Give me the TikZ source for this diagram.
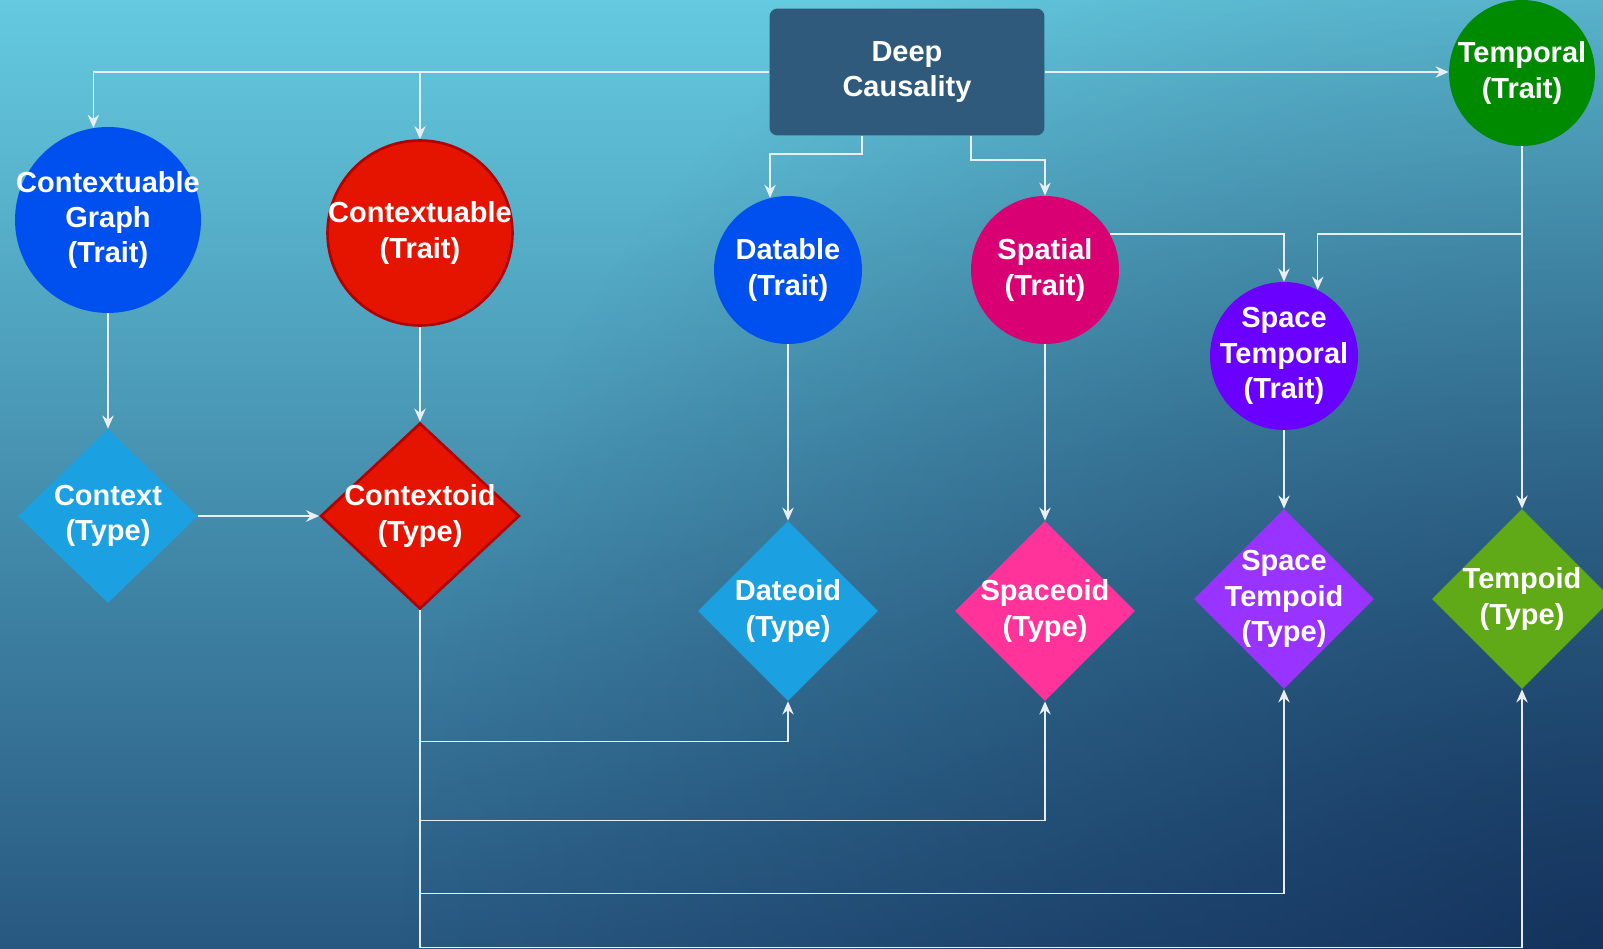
\documentclass[tikz,border=0pt]{standalone}
\usepackage{fontspec}
\setmainfont{Liberation Sans}
\usepackage{tikz}
\usetikzlibrary{calc, arrows.meta, shapes.geometric, fadings}

\definecolor{bgtop}{RGB}{100,202,223}
\definecolor{bgmid}{RGB}{80,178,205}
\definecolor{bgbot}{RGB}{40,88,128}
\definecolor{bgdark}{RGB}{8,28,72}
\definecolor{linec}{RGB}{232,238,242}
\definecolor{deepc}{RGB}{47,90,123}
\definecolor{blueT}{RGB}{0,80,239}
\definecolor{redT}{RGB}{229,20,0}
\definecolor{redB}{RGB}{178,0,0}
\definecolor{pinkT}{RGB}{216,0,115}
\definecolor{violetT}{RGB}{106,0,255}
\definecolor{greenT}{RGB}{0,138,0}
\definecolor{cyanY}{RGB}{27,161,226}
\definecolor{pinkY}{RGB}{255,51,153}
\definecolor{violetY}{RGB}{153,51,255}
\definecolor{greenY}{RGB}{96,169,23}

\tikzfading[name=fade out, inner color=transparent!0, outer color=transparent!100]

\begin{document}
\begin{tikzpicture}[x=0.02cm,y=-0.02cm,>={Stealth[length=7.5pt,width=6.5pt,inset=2.5pt]},
  trait/.style={circle,minimum size=2.96cm,inner sep=0pt},
  typ/.style={diamond,minimum width=3.6cm,minimum height=3.6cm,inner sep=0pt},
  txt/.style={text=white,font=\bfseries\fontsize{16.5}{20}\selectfont,align=center},
  link/.style={->,draw=linec,line width=0.8pt}]
\useasboundingbox (0,0) rectangle (1603,949);
\clip (0,0) rectangle (1603,949);
% background
\shade [top color=bgtop,middle color=bgmid,bottom color=bgbot] (0,0) rectangle (1603,949);
\fill [bgdark,fill opacity=0.62,path fading=fade out] (403,-251) rectangle (2803,2149);

% traits
\draw node [rectangle,rounded corners=0.16cm,fill=deepc,minimum width=5.5cm,minimum height=2.54cm,txt] (DC) at (907,72) {Deep\\Causality};
\draw node [trait,fill=greenT,minimum size=2.92cm,label={[txt]center:Temporal\\(Trait)}] (TM) at (1522,73) {};
\draw node [trait,fill=blueT,minimum size=3.72cm,label={[txt]center:Contextuable\\Graph\\(Trait)}] (CG) at (108,220) {};
\draw node [trait,fill=redT,draw=redB,line width=1.5pt,minimum size=3.7cm,label={[txt]center:Contextuable\\(Trait)}] (CT) at (420,233) {};
\draw node [trait,fill=blueT,label={[txt]center:Datable\\(Trait)}] (DT) at (788,270) {};
\draw node [trait,fill=pinkT,label={[txt]center:Spatial\\(Trait)}] (SP) at (1045,270) {};
\draw node [trait,fill=violetT,label={[txt]center:Space\\Temporal\\(Trait)}] (ST) at (1284,356) {};

% types
\draw node [typ,fill=cyanY,minimum height=3.48cm,label={[txt]center:Context\\(Type)}] (CX) at (108,516) {};
\draw node [typ,fill=redT,draw=redB,line width=1.5pt,minimum width=3.98cm,minimum height=3.72cm,label={[txt]center:Contextoid\\(Type)}] (CO) at (420,516) {};
\draw node [typ,fill=cyanY,label={[txt]center:Dateoid\\(Type)}] (DO) at (788,611) {};
\draw node [typ,fill=pinkY,label={[txt]center:Spaceoid\\(Type)}] (SO) at (1045,611) {};
\draw node [typ,fill=violetY,label={[txt]center:Space\\Tempoid\\(Type)}] (STT) at (1284,599) {};
\draw node [typ,fill=greenY,label={[txt]center:Tempoid\\(Type)}] (TP) at (1522,599) {};

% links from the top
\draw [link] (DC.west) -| (CG.99);
\draw [link] (DC.west) -| (CT.north);
\draw [link] (DC.east) -- (DC.east -| TM.west);
\draw [link] ($(DC.south)+(-45,0)$) -- ++(0,18) -| (DT.104);
\draw [link] ($(DC.south)+(64,0)$) -- ++(0,24) -| (SP.north);
\draw [link] (SP.29) -| (ST.north);
\draw [link] (TM.south |- SP.29) -| (ST.63);
\draw [link] (TM.south) -- (TP.north);

% trait to type
\draw [link] (CG.south) -- (CX.north);
\draw [link] (CT.south) -- (CO.north);
\draw [link] (DT.south) -- (DO.north);
\draw [link] (SP.south) -- (SO.north);
\draw [link] (ST.south) -- (STT.north);
\draw [link] (CX.east) -- (CO.west);

% contextoid bus
\draw [link] (CO.south) |- ($(DO.south)+(0,40)$) -- (DO.south);
\draw [link] (CO.south) |- ($(SO.south)+(0,119)$) -- (SO.south);
\draw [link] (CO.south) |- ($(STT.south)+(0,204)$) -- (STT.south);
\draw [link] (CO.south) |- ($(TP.south)+(0,258)$) -- (TP.south);
\end{tikzpicture}
\end{document}
